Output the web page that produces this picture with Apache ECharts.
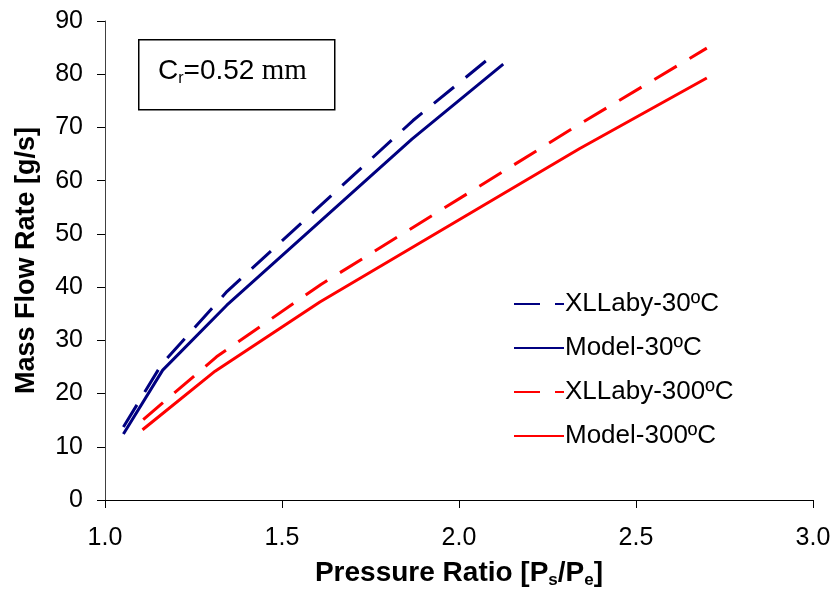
<!DOCTYPE html>
<html>
<head>
<meta charset="utf-8">
<script src="https://cdn.jsdelivr.net/npm/echarts@6/dist/echarts.min.js"></script>
<style>html,body{margin:0;padding:0;background:#fff}#c{width:834px;height:594px}</style>
</head>
<body>
<div id="c"></div>
<script>
// Data
const xlaby30X = [1.052, 1.16, 1.345, 1.87, 2.10];
const xlaby30Y = [13.7, 25.5, 39.2, 71.3, 83.8];
const model30X = [1.052, 1.163, 1.344, 1.867, 2.125];
const model30Y = [12.4, 24.4, 36.6, 67.8, 81.9];
const xlaby300X = [1.108, 1.315, 1.61, 2.34, 2.70];
const xlaby300Y = [15.1, 26.9, 40.5, 70.6, 84.9];
const model300X = [1.106, 1.311, 1.607, 2.34, 2.70];
const model300Y = [13.2, 24.2, 37.2, 66.0, 79.3];
const seriesNames = ['XLLaby-30ºC', 'Model-30ºC', 'XLLaby-300ºC', 'Model-300ºC'];

const pairs = (xs, ys) => xs.map((x, i) => [x, ys[i]]);
const BLUE = '#000080', RED = '#FF0000';
const DASH = [26, 15];
const FONT = 'Liberation Sans, Arial, sans-serif';

function mk(name, xs, ys, color, dashed) {
  return {
    name, type: 'line', data: pairs(xs, ys), symbol: 'none', showSymbol: false,
    lineStyle: { color, width: 3, type: dashed ? DASH : 'solid' },
    itemStyle: { color }, silent: true, animation: false
  };
}

const chart = echarts.init(document.getElementById('c'), null, { renderer: 'canvas' });
chart.setOption({
  animation: false,
  backgroundColor: '#fff',
  grid: { left: 105, top: 21, right: 21, bottom: 91.5, containLabel: false },
  legend: {
    orient: 'vertical', left: 508, top: 286,
    itemWidth: 50, itemHeight: 14, itemGap: 18,
    data: seriesNames,
    itemStyle: { opacity: 0 },
    textStyle: { fontSize: 26, color: '#000', fontFamily: FONT, padding: [0, 0, 0, -4] }
  },
  xAxis: {
    type: 'value', min: 1.0, max: 3.0, interval: 0.5,
    axisLine: { show: true, lineStyle: { color: '#000', width: 1 } },
    axisTick: { show: true, length: 8, inside: false, lineStyle: { color: '#000' } },
    splitLine: { show: false },
    axisLabel: { fontSize: 25, color: '#000', fontFamily: FONT, margin: 26, formatter: v => v.toFixed(1) },
    name: '{b|Pressure Ratio [P}{s|s}{b|/P}{s|e}{b|]}',
    nameLocation: 'middle', nameGap: 58,
    nameTextStyle: {
      rich: {
        b: { fontSize: 28, fontWeight: 'bold', color: '#000', fontFamily: FONT },
        s: { fontSize: 17, fontWeight: 'bold', color: '#000', fontFamily: FONT, padding: [14, 0, 0, 0] }
      }
    }
  },
  yAxis: {
    type: 'value', min: 0, max: 90, interval: 10,
    axisLine: { show: true, lineStyle: { color: '#404040', width: 1 } },
    axisTick: { show: true, length: 8, inside: false, lineStyle: { color: '#000' } },
    splitLine: { show: false },
    axisLabel: { fontSize: 25, color: '#000', fontFamily: FONT, margin: 22 },
    name: 'Mass Flow Rate [g/s]',
    nameLocation: 'middle', nameGap: 65,
    nameTextStyle: { fontSize: 27, fontWeight: 'bold', color: '#000', fontFamily: FONT }
  },
  graphic: [
    {
      type: 'rect', left: 138, top: 39, z: 10,
      shape: { width: 196, height: 70 },
      style: { fill: '#fff', stroke: '#000', lineWidth: 1.5 }
    },
    {
      type: 'text', left: 158, top: 57, z: 11,
      style: {
        text: '{a|C}{s|r}{a|=0.52}{t| mm}',
        rich: {
          a: { fontSize: 28, fill: '#000', fontFamily: FONT },
          s: { fontSize: 16, fill: '#000', fontFamily: FONT, padding: [15, 0, 0, 0] },
          t: { fontSize: 29, fill: '#000', fontFamily: 'Liberation Serif, Times New Roman, serif' }
        }
      }
    }
  ],
  series: [
    mk(seriesNames[0], xlaby30X, xlaby30Y, BLUE, true),
    mk(seriesNames[1], model30X, model30Y, BLUE, false),
    mk(seriesNames[2], xlaby300X, xlaby300Y, RED, true),
    mk(seriesNames[3], model300X, model300Y, RED, false)
  ]
});
</script>
</body>
</html>
